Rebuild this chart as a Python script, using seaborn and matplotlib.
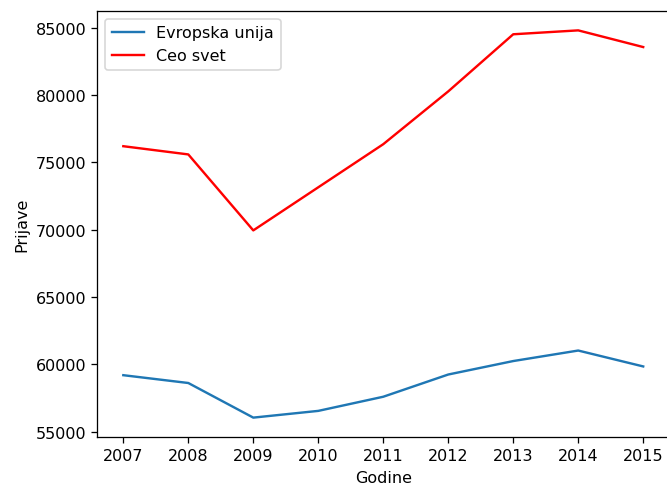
import pandas as pd
import seaborn as sns
from matplotlib import pyplot as plt

godine = [2007, 2008, 2009, 2010, 2011, 2012, 2013, 2014, 2015]
evropska_unija = [59200, 58620, 56050, 56550, 57600, 59250, 60250, 61030, 59850]
ceo_svet = [76200, 75590, 69950, 73150, 76350, 80270, 84510, 84800, 83560]

df = pd.DataFrame({"Godine": godine,
                   "Evropska unija": evropska_unija,
                   "Ceo svet": ceo_svet})

# original looks like a slightly enlarged, tightly cropped default figure
fig, ax = plt.subplots(figsize=(667 / 115, 486 / 115), dpi=115)

sns.lineplot(data=df, x="Godine", y="Evropska unija", color="#1f77b4", label="Evropska unija", ax=ax)
sns.lineplot(data=df, x="Godine", y="Ceo svet", color="red", label="Ceo svet", ax=ax)

ax.set_xticks(godine)
ax.set_xlabel("Godine")
ax.set_ylabel("Prijave")
ax.legend(loc="upper left")

fig.subplots_adjust(left=0.1459, right=1.0033, top=0.9753, bottom=0.0988)
fig.savefig("out.png", dpi=115)
